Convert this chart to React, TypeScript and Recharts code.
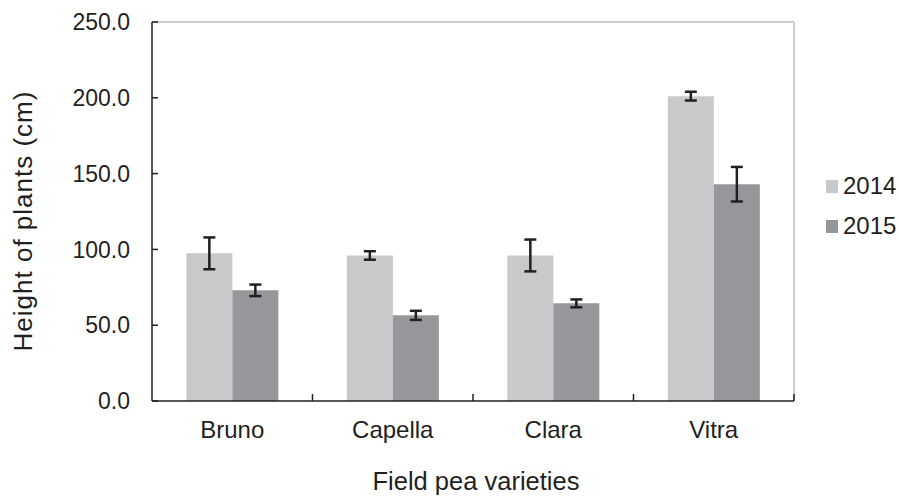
import { BarChart, Bar, XAxis, YAxis, ErrorBar, Label, ReferenceLine } from 'recharts'

const varieties = ['Bruno', 'Capella', 'Clara', 'Vitra']
const height2014 = [97.4, 96.0, 96.0, 201.1]
const height2015 = [73.0, 56.5, 64.4, 143.0]
const err2014 = [10.5, 2.8, 10.5, 2.9]
const err2015 = [3.8, 3.0, 2.6, 11.4]
const yTicks = [0, 50, 100, 150, 200, 250]
const boundaryTicks = [1, 2, 3, 4]
const seriesNames = ['2014', '2015']

const data = varieties.map((name, i) => ({
  name,
  pos: i + 0.5,
  y2014: height2014[i],
  y2015: height2015[i],
  e2014: err2014[i],
  e2015: err2015[i],
}))

const FONT = '"Liberation Sans", Arial, sans-serif'
const INK = '#231F20'
const FRAME = '#BDBDBD'
const C2014 = '#C8C9CB'
const C2015 = '#96979B'
const TICK_LEN = 4.6 // in data units, ~7px

function YTitle() {
  const cx = 32
  const cy = 221
  return (
    <text
      x={cx}
      y={cy}
      transform={`rotate(-90, ${cx}, ${cy})`}
      textAnchor="middle"
      fontSize={26}
      letterSpacing={1}
      fontFamily={FONT}
      fill={INK}
    >
      Height of plants (cm)
    </text>
  )
}

function XTitle() {
  return (
    <text x={476} y={490} textAnchor="middle" fontSize={25.5} fontFamily={FONT} fill={INK}>
      Field pea varieties
    </text>
  )
}

function LegendBox() {
  const colors = [C2014, C2015]
  return (
    <div
      style={{
        position: 'absolute',
        left: 826,
        top: 166,
        fontFamily: FONT,
        fontSize: 24,
        color: INK,
      }}
    >
      {seriesNames.map((label, i) => (
        <div key={label} style={{ display: 'flex', alignItems: 'center', height: 40 }}>
          <span style={{ width: 12, height: 13, background: colors[i], marginRight: 5 }} />
          <span>{label}</span>
        </div>
      ))}
    </div>
  )
}

export default function App() {
  return (
    <div style={{ position: 'absolute', left: 0, top: 0, width: 899, height: 498, background: '#fff' }}>
      <BarChart
        width={899}
        height={498}
        data={data}
        margin={{ top: 22, right: 105, bottom: 0, left: 0 }}
        barCategoryGap="21.4%"
        barGap={0}
      >
        {/* hidden numeric axis, used only to place ticks between categories */}
        <XAxis xAxisId="bounds" dataKey="pos" type="number" domain={[0, 4]} allowDataOverflow hide />
        <XAxis
          dataKey="name"
          height={97}
          tickLine={false}
          axisLine={{ stroke: INK, strokeWidth: 1.5 }}
          tickSize={0}
          tickMargin={20}
          tick={{ fontSize: 24, fontFamily: FONT, fill: INK }}
        >
          <Label content={<XTitle />} />
        </XAxis>
        <YAxis
          width={152}
          domain={[0, 250]}
          ticks={yTicks}
          tickFormatter={v => v.toFixed(1)}
          tickSize={-6}
          tickMargin={28}
          tick={{ fontSize: 23, fontFamily: FONT, fill: INK }}
          tickLine={{ stroke: INK, strokeWidth: 1.5 }}
          axisLine={{ stroke: INK, strokeWidth: 1.5 }}
        >
          <Label content={<YTitle />} />
        </YAxis>
        {/* light frame on top and right */}
        <ReferenceLine y={250} stroke={FRAME} strokeWidth={1.5} />
        <ReferenceLine x={4} xAxisId="bounds" stroke={FRAME} strokeWidth={1.5} ifOverflow="visible" />
        {boundaryTicks.map(t => (
          <ReferenceLine
            key={t}
            xAxisId="bounds"
            segment={[{ x: t, y: 0 }, { x: t, y: TICK_LEN }]}
            stroke={INK}
            strokeWidth={1.5}
            ifOverflow="visible"
          />
        ))}
        <Bar dataKey="y2014" name={seriesNames[0]} fill={C2014} isAnimationActive={false}>
          <ErrorBar dataKey="e2014" width={6} strokeWidth={2.5} stroke={INK} direction="y" />
        </Bar>
        <Bar dataKey="y2015" name={seriesNames[1]} fill={C2015} isAnimationActive={false}>
          <ErrorBar dataKey="e2015" width={6} strokeWidth={2.5} stroke={INK} direction="y" />
        </Bar>
      </BarChart>
      <LegendBox />
    </div>
  )
}
